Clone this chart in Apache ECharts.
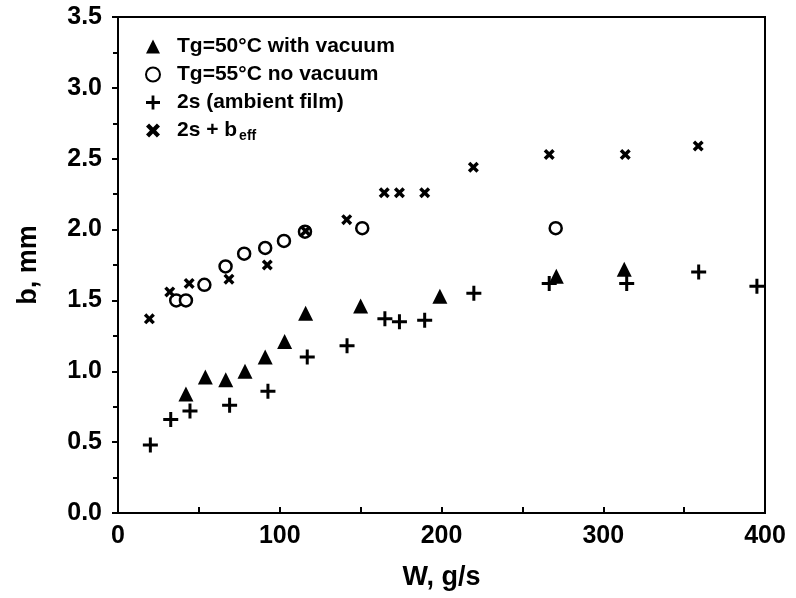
<!DOCTYPE html>
<html>
<head>
<meta charset="utf-8">
<script src="https://cdn.jsdelivr.net/npm/echarts@6/dist/echarts.min.js"></script>
<style>
  html, body { margin: 0; padding: 0; background: #fff; }
  #chart { width: 796px; height: 598px; }
</style>
</head>
<body>
<div id="chart"></div>
<script>
// Tg = 50 °C, with vacuum
const vacW = [42, 54, 66.6, 78.5, 91, 103, 116, 150, 199, 271, 313];
const vacB = [0.84, 0.96, 0.94, 1.00, 1.10, 1.21, 1.41, 1.46, 1.53, 1.67, 1.72];

// Tg = 55 °C, no vacuum
const noVacW = [36, 42, 53.4, 66.5, 78, 91, 102.6, 115.6, 151, 270.6];
const noVacB = [1.50, 1.50, 1.61, 1.74, 1.83, 1.87, 1.92, 1.985, 2.01, 2.01];

// 2s (ambient film)
const ambW = [20, 32.6, 44.5, 69, 92.7, 117, 141.6, 165, 174, 189.6, 220, 266.6, 314.5, 359, 395];
const ambB = [0.48, 0.66, 0.72, 0.76, 0.86, 1.10, 1.18, 1.37, 1.35, 1.36, 1.55, 1.62, 1.62, 1.70, 1.60];

// 2s + b_eff
const effW = [19.4, 32, 44, 68.6, 92.3, 116, 141.4, 164.6, 174, 189.6, 219.7, 266.6, 313.6, 358.7];
const effB = [1.37, 1.56, 1.62, 1.65, 1.75, 1.99, 2.07, 2.26, 2.26, 2.26, 2.44, 2.53, 2.53, 2.59];

const xTicks = [0, 100, 200, 300, 400];
const yTicks = [0.0, 0.5, 1.0, 1.5, 2.0, 2.5, 3.0, 3.5];

const seriesNames = ['Tg=50°C with vacuum', 'Tg=55°C no vacuum', '2s (ambient film)', '2s + beff'];

const PLUS = 'path://M4,0h2v4h4v2h-4v4h-2v-4h-4v-2h4z';
const CROSS = 'path://M0,2.2L2.2,0L5,2.8L7.8,0L10,2.2L7.2,5L10,7.8L7.8,10L5,7.2L2.2,10L0,7.8L2.8,5Z';

const pairs = (xs, ys) => xs.map((x, i) => [x, ys[i]]);

const FONT = '"Liberation Sans", Arial, Helvetica, sans-serif';

const chart = echarts.init(document.getElementById('chart'), null, { renderer: 'canvas' });

chart.setOption({
  backgroundColor: '#fff',
  animation: false,
  textStyle: { fontFamily: FONT, color: '#000' },
  grid: {
    left: 118, right: 31, top: 17, bottom: 85,
    show: true, borderColor: '#000', borderWidth: 2, backgroundColor: 'transparent'
  },
  legend: {
    orient: 'vertical',
    left: 140, top: 31,
    itemWidth: 14, itemHeight: 14,
    itemGap: 7,
    data: seriesNames,
    formatter: name => name === '2s + beff' ? '2s + b{sub|eff}' : name,
    textStyle: {
      fontFamily: FONT, fontSize: 21, fontWeight: 'bold', color: '#000',
      padding: [0, 0, 0, 12],
      rich: {
        sub: { fontFamily: FONT, fontSize: 14, fontWeight: 'bold', color: '#000', padding: [12, 0, 0, 2] }
      }
    }
  },
  xAxis: {
    type: 'value', min: 0, max: 400, interval: 100,
    name: 'W, g/s', nameLocation: 'middle', nameGap: 51,
    nameTextStyle: { fontFamily: FONT, fontSize: 27, fontWeight: 'bold', color: '#000' },
    axisLine: { show: true, lineStyle: { color: '#000', width: 2 } },
    axisTick: { show: true, inside: true, length: 6, lineStyle: { color: '#000', width: 2 } },
    minorTick: { show: true, splitNumber: 2, length: 6, lineStyle: { color: '#000', width: 2 } },
    splitLine: { show: false },
    axisLabel: {
      margin: 11, fontFamily: FONT, fontSize: 25, fontWeight: 'bold', color: '#000',
      formatter: v => xTicks.includes(v) ? String(v) : ''
    }
  },
  yAxis: {
    type: 'value', min: 0, max: 3.5, interval: 0.5,
    name: 'b, mm', nameLocation: 'middle', nameGap: 76,
    nameTextStyle: { fontFamily: FONT, fontSize: 27, fontWeight: 'bold', color: '#000' },
    axisLine: { show: true, lineStyle: { color: '#000', width: 2 } },
    axisTick: { show: true, inside: false, length: 6, lineStyle: { color: '#000', width: 2 } },
    minorTick: { show: true, splitNumber: 2, length: 5, lineStyle: { color: '#000', width: 2 } },
    splitLine: { show: false },
    axisLabel: {
      margin: 16, fontFamily: FONT, fontSize: 25, fontWeight: 'bold', color: '#000',
      formatter: v => {
        const t = yTicks.find(y => Math.abs(y - v) < 1e-9);
        return t === undefined ? '' : t.toFixed(1);
      }
    }
  },
  series: [
    {
      name: seriesNames[0], type: 'scatter', data: pairs(vacW, vacB),
      symbol: 'triangle', symbolSize: 15,
      itemStyle: { color: '#000', opacity: 1 }
    },
    {
      name: seriesNames[1], type: 'scatter', data: pairs(noVacW, noVacB),
      symbol: 'circle', symbolSize: 12,
      itemStyle: { color: '#fff', borderColor: '#000', borderWidth: 2.5, opacity: 1 }
    },
    {
      name: seriesNames[2], type: 'scatter', data: pairs(ambW, ambB),
      symbol: PLUS, symbolSize: 15,
      itemStyle: { color: '#000', opacity: 1 }
    },
    {
      name: seriesNames[3], type: 'scatter', data: pairs(effW, effB),
      symbol: CROSS, symbolSize: 11,
      itemStyle: { color: '#000', opacity: 1 }
    }
  ]
});
</script>
</body>
</html>
